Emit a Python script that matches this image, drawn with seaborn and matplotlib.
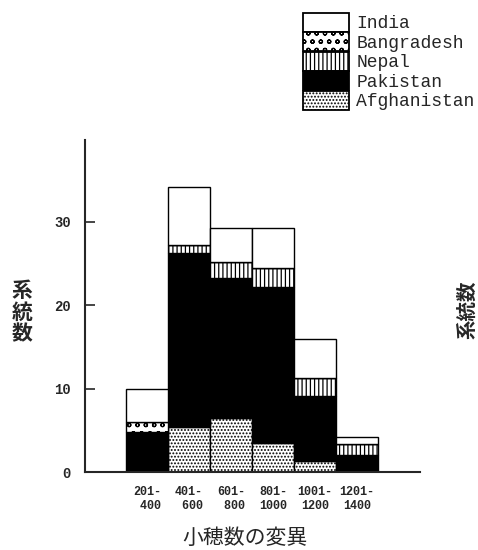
import matplotlib
matplotlib.use("Agg")
import matplotlib.pyplot as plt
import matplotlib.patches as mpatches
import seaborn as sns

# Spikelet-number classes and number of lines per class, by country of origin
categories = ["201-\n 400", "401-\n 600", "601-\n 800", "801-\n1000", "1001-\n1200", "1201-\n1400"]
afghanistan = [0.0, 5.4, 6.5, 3.5, 1.3, 0.0]
pakistan = [4.8, 20.9, 16.8, 18.7, 7.8, 2.0]
nepal = [0.0, 0.9, 1.9, 2.3, 2.2, 1.4]
bangladesh = [1.2, 0.0, 0.0, 0.0, 0.0, 0.0]
india = [4.0, 7.0, 4.0, 4.7, 4.7, 0.8]

yticks = [0, 10, 20, 30]

sns.set_style("ticks")
plt.rcParams["font.family"] = ["Liberation Mono", "DejaVu Sans"]
plt.rcParams["hatch.linewidth"] = 0.9

fig = plt.figure(figsize=(4.78, 5.5), dpi=100)
ax = fig.add_axes([85 / 478, 1 - 472 / 550, 335 / 478, 332 / 550])

# stacking order from bottom to top, with the fill used for each country
layers = [
    ("Afghanistan", afghanistan, "white", "....."),
    ("Pakistan", pakistan, "black", None),
    ("Nepal", nepal, "white", "||||"),
    ("Bangradesh", bangladesh, "white", "oo"),
    ("India", india, "white", None),
]

bottom = [0.0] * len(categories)
for name, vals, fc, hatch in layers:
    sns.barplot(x=categories, y=vals, order=categories, bottom=bottom,
                color=fc, saturation=1, width=1.0, errorbar=None,
                edgecolor="black", linewidth=1.0, hatch=hatch, ax=ax)
    bottom = [b + v for b, v in zip(bottom, vals)]

ax.set_xlim(-1.476, 6.5)
ax.set_ylim(0, 39.8)
ax.set_yticks(yticks)
ax.set_yticklabels([str(t) for t in yticks], fontsize=10, fontweight="bold")
ax.tick_params(axis="y", direction="in", length=7, width=1.2, pad=10)
ax.tick_params(axis="x", length=0, pad=10, labelsize=8.5)
for lab in ax.get_xticklabels():
    lab.set_fontweight("bold")
ax.set_xlabel("")
ax.set_ylabel("")
for side in ("top", "right"):
    ax.spines[side].set_visible(False)
for side in ("left", "bottom"):
    ax.spines[side].set_linewidth(1.5)

cjk = ["Noto Sans CJK JP", "DejaVu Sans"]
fig.text(245 / 478, 1 - 538 / 550, "小穂数の変異", family=cjk, fontsize=15,
         ha="center", va="center")
fig.text(22 / 478, 1 - 312 / 550, "系\n統\n数", family=cjk, fontsize=15,
         fontweight="bold", ha="center", va="center", linespacing=1.05)
fig.text(477 / 478, 1 - 310 / 550, "系統数", family=cjk, fontsize=14,
         fontweight="bold", ha="right", va="center", rotation=90)

# legend: India on top down to Afghanistan at the bottom
legend_order = ["India", "Bangradesh", "Nepal", "Pakistan", "Afghanistan"]
style = {name: (fc, hatch) for name, vals, fc, hatch in layers}
handles = [mpatches.Patch(facecolor=style[n][0], edgecolor="black", hatch=style[n][1],
                          linewidth=1.3, label=n)
           for n in legend_order]
leg = fig.legend(handles=handles, loc="upper left",
                 bbox_to_anchor=(303 / 478, 1 - 13 / 550),
                 frameon=False, borderpad=0, borderaxespad=0,
                 labelspacing=0, handleheight=1.22, handlelength=2.55,
                 handletextpad=0.4,
                 prop={"family": "Liberation Mono", "size": 13})

fig.savefig("out.png", dpi=100)
